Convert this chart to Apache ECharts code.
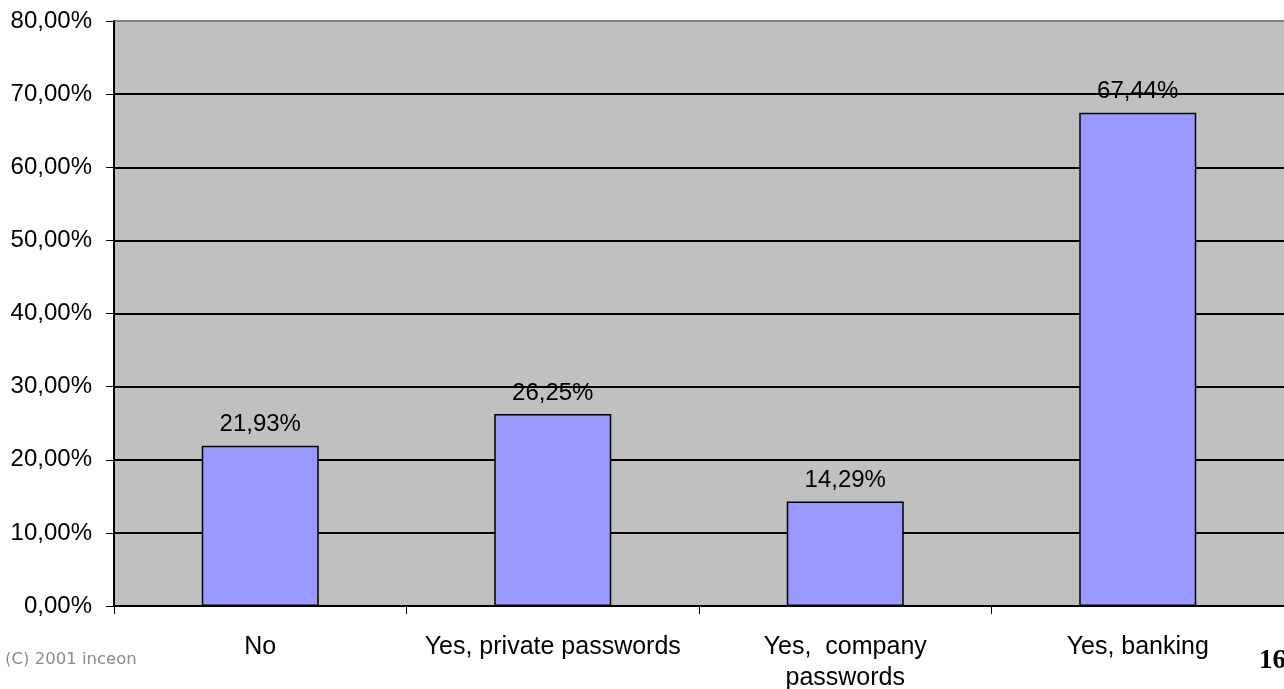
<!DOCTYPE html>
<html>
<head>
<meta charset="utf-8">
<script src="https://cdn.jsdelivr.net/npm/echarts@6/dist/echarts.min.js"></script>
<style>
  html, body { margin: 0; padding: 0; background: #fff; }
  #chart { width: 1284px; height: 689px; }
</style>
</head>
<body>
<div id="chart"></div>
<script>
// Survey answers and their shares (percent)
const categories = ['No', 'Yes, private passwords', 'Yes,  company\npasswords', 'Yes, banking'];
const shares = [21.93, 26.25, 14.29, 67.44];
const yTicks = { min: 0, max: 80, interval: 10 };

const pct = v => v.toFixed(2).replace('.', ',') + '%';
const font = '"Liberation Sans", Arial, sans-serif';

const chart = echarts.init(document.getElementById('chart'));
chart.setOption({
  animation: false,
  backgroundColor: '#ffffff',
  grid: {
    left: 114, right: 0, top: 21, bottom: 83,
    outerBoundsMode: 'none', containLabel: false,
    show: true, backgroundColor: '#C0C0C0', borderWidth: 0
  },
  xAxis: {
    type: 'category',
    data: categories,
    axisLine: { lineStyle: { color: '#000', width: 2 } },
    axisTick: { show: true, interval: 0, length: 8, lineStyle: { color: '#000' } },
    axisLabel: {
      interval: 0, margin: 26, color: '#000', fontFamily: font, fontSize: 25, lineHeight: 31
    }
  },
  yAxis: {
    type: 'value',
    min: yTicks.min, max: yTicks.max, interval: yTicks.interval,
    axisLine: { show: true, lineStyle: { color: '#000', width: 2 } },
    axisTick: { show: true, length: 8, lineStyle: { color: '#000' } },
    axisLabel: {
      margin: 22, color: '#000', fontFamily: font, fontSize: 24,
      formatter: v => pct(v)
    },
    splitLine: {
      show: true,
      lineStyle: { color: ['#000', '#000', '#000', '#000', '#000', '#000', '#000', '#000', '#808080'], width: 2 }
    }
  },
  series: [{
    type: 'bar',
    data: shares,
    barWidth: '40%',
    itemStyle: { color: '#9999FF', borderColor: '#000', borderWidth: 1.5 },
    label: {
      show: true, position: 'top', distance: 9,
      color: '#000', fontFamily: font, fontSize: 24,
      formatter: p => pct(p.value)
    }
  }],
  graphic: [
    {
      type: 'text', left: 5, top: 651,
      style: { text: '(C) 2001 inceon', fill: '#8c8c8c', font: '16.5px "DejaVu Sans", Verdana, sans-serif' }
    },
    {
      type: 'text', left: 1259, top: 648,
      style: { text: '16', fill: '#000', font: 'bold 27px "Liberation Serif", "Times New Roman", serif' }
    }
  ]
});
</script>
</body>
</html>
